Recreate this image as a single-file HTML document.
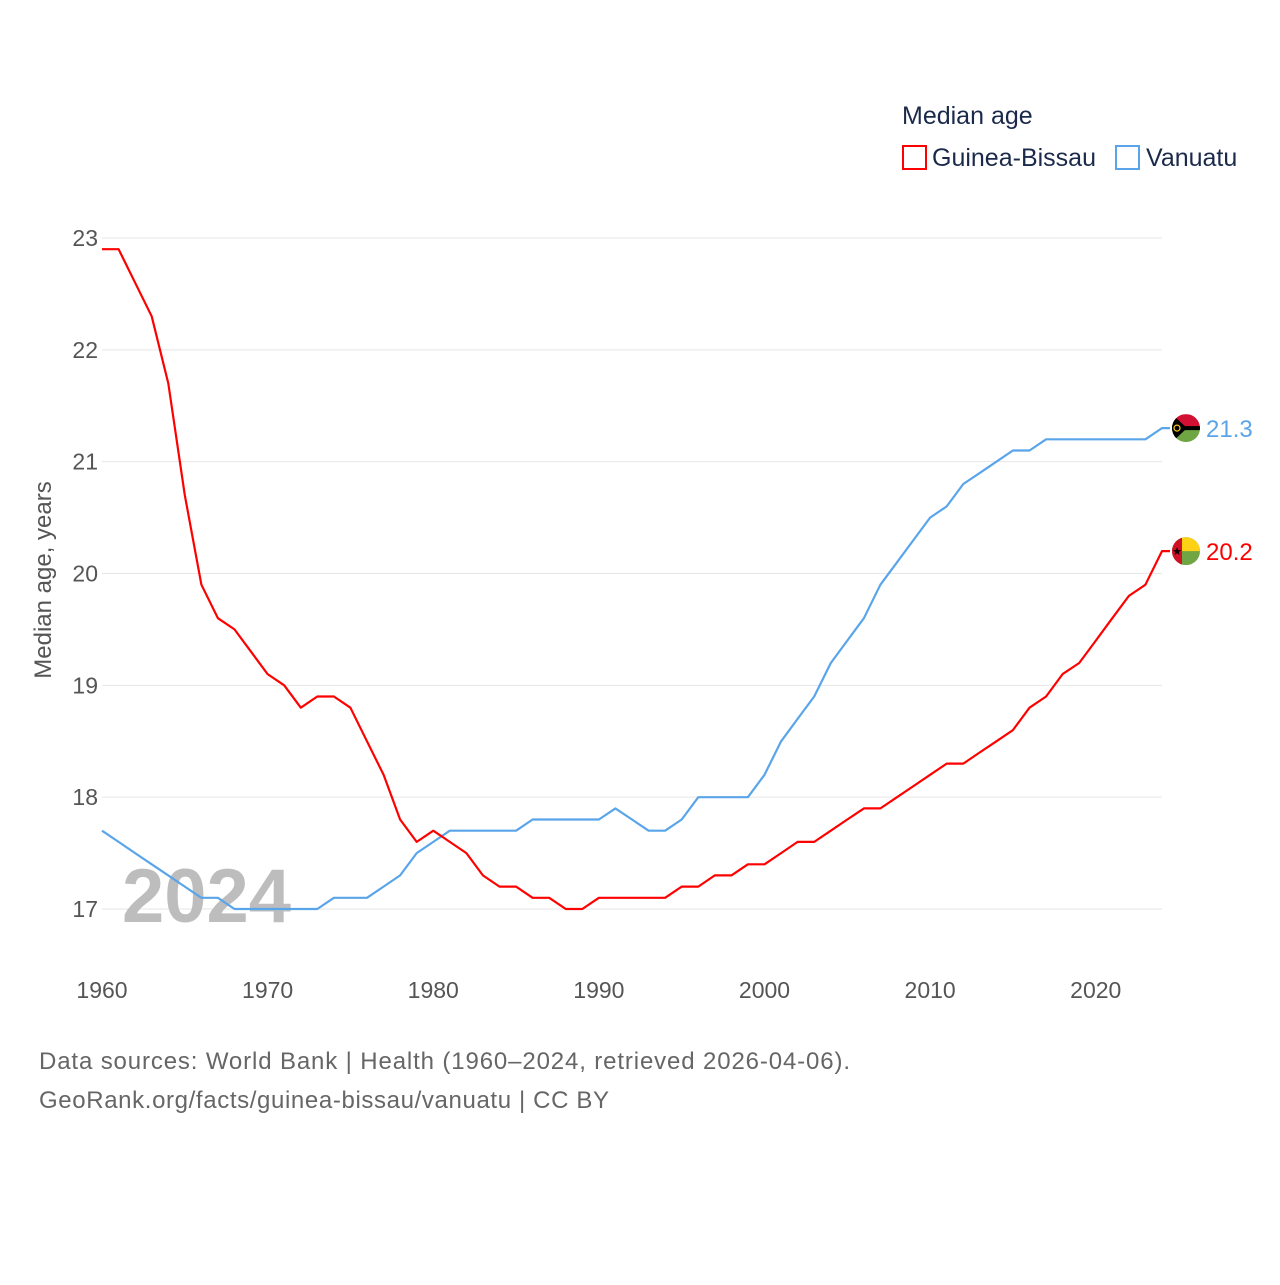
<!DOCTYPE html>
<html><head><meta charset="utf-8"><style>
body{margin:0;background:#fff;}
svg text{font-family:"Liberation Sans",sans-serif;}
</style></head><body>
<svg id="chart" width="1280" height="1280" viewBox="0 0 1280 1280" xmlns="http://www.w3.org/2000/svg">
<rect width="1280" height="1280" fill="#fff"/>
<g id="grid"></g>
<g id="yticks"></g>
<g id="xticks"></g>
<text x="122" y="922" font-size="76" font-weight="bold" fill="#bdbdbd">2024</text>
<text transform="translate(51,580) rotate(-90)" text-anchor="middle" font-size="24" fill="#555">Median age, years</text>
<g id="series"></g>
<g>
<text x="902" y="124" font-size="25" fill="#1b2a4a">Median age</text>
<g>
<rect x="903" y="146" width="23" height="23" fill="none" stroke="#ff0000" stroke-width="2"/>
<text x="932" y="166" font-size="25" fill="#1b2a4a">Guinea-Bissau</text></g>
<g>
<rect x="1116" y="146" width="23" height="23" fill="none" stroke="#5aa5ea" stroke-width="2"/>
<text x="1146" y="166" font-size="25" fill="#1b2a4a">Vanuatu</text></g>
</g>
<text x="39" y="1069" font-size="24" fill="#666" textLength="811" lengthAdjust="spacing">Data sources: World Bank | Health (1960–2024, retrieved 2026-04-06).</text>
<text x="39" y="1108" font-size="24" fill="#666" textLength="570" lengthAdjust="spacing">GeoRank.org/facts/guinea-bissau/vanuatu | CC BY</text>
</svg>
<script>
const years=[];for(let y=1960;y<=2024;y++)years.push(y);
const guineaBissau=[22.9,22.9,22.6,22.3,21.7,20.7,19.9,19.6,19.5,19.3,19.1,19.0,18.8,18.9,18.9,18.8,18.5,18.2,17.8,17.6,17.7,17.6,17.5,17.3,17.2,17.2,17.1,17.1,17.0,17.0,17.1,17.1,17.1,17.1,17.1,17.2,17.2,17.3,17.3,17.4,17.4,17.5,17.6,17.6,17.7,17.8,17.9,17.9,18.0,18.1,18.2,18.3,18.3,18.4,18.5,18.6,18.8,18.9,19.1,19.2,19.4,19.6,19.8,19.9,20.2];
const vanuatu=[17.7,17.6,17.5,17.4,17.3,17.2,17.1,17.1,17.0,17.0,17.0,17.0,17.0,17.0,17.1,17.1,17.1,17.2,17.3,17.5,17.6,17.7,17.7,17.7,17.7,17.7,17.8,17.8,17.8,17.8,17.8,17.9,17.8,17.7,17.7,17.8,18.0,18.0,18.0,18.0,18.2,18.5,18.7,18.9,19.2,19.4,19.6,19.9,20.1,20.3,20.5,20.6,20.8,20.9,21.0,21.1,21.1,21.2,21.2,21.2,21.2,21.2,21.2,21.2,21.3];
const yTicks=[17,18,19,20,21,22,23];
const xTicks=[1960,1970,1980,1990,2000,2010,2020];
const NS='http://www.w3.org/2000/svg';
const x=v=>102+(v-1960)*(1162-102)/64;
const y=v=>909-(v-17)*(909-238)/6;
function mk(t,a,p){const e=document.createElementNS(NS,t);for(const k in a)e.setAttribute(k,a[k]);p.appendChild(e);return e;}
const grid=document.getElementById('grid'),yt=document.getElementById('yticks'),xt=document.getElementById('xticks'),ser=document.getElementById('series');
yTicks.forEach(v=>{
 const l=mk('line',{x1:102,x2:1162,y1:y(v),y2:y(v),stroke:'#e6e6e6','stroke-width':1},grid);
 
 
 const t=mk('text',{x:98,y:y(v)+8,'text-anchor':'end','font-size':23,fill:'#555'},yt);
 
 
 t.textContent=v;
});
xTicks.forEach(v=>{
 const t=mk('text',{x:x(v),y:998,'text-anchor':'middle','font-size':23,fill:'#555'},xt);
 
 
 t.textContent=v;
});
function line(vals,color,name){
 const d=vals.map((v,i)=>(i?'L':'M')+x(years[i]).toFixed(1)+','+y(v).toFixed(1)).join('')+'L'+(x(2024)+8)+','+y(vals[vals.length-1]).toFixed(1);
 const p=mk('path',{d:d,fill:'none',stroke:color,'stroke-width':2.2,'stroke-linejoin':'round'},ser);
 
 
}
line(vanuatu,'#5aa5ea','vanuatu-line');
line(guineaBissau,'#ff0000','guinea-bissau-line');
function endLabel(v,color,name,flag){
 const cy=y(v),cx=1186;
 const g=mk('g',{},ser);
 
 
 const cid='c'+name;
 const cp=mk('clipPath',{id:cid},g);mk('circle',{cx:cx,cy:cy,r:14},cp);
 const f=mk('g',{'clip-path':'url(#'+cid+')'},g);
 if(flag==='vu'){
  mk('rect',{x:cx-14,y:cy-14,width:28,height:14,fill:'#d21034'},f);
  mk('rect',{x:cx-14,y:cy,width:28,height:14,fill:'#6fa542'},f);
  mk('rect',{x:cx-14,y:cy-2,width:28,height:4,fill:'#000'},f);
  mk('polygon',{points:(cx-14)+','+(cy-14)+' '+(cx+1)+','+cy+' '+(cx-14)+','+(cy+14),fill:'#000'},f);
  mk('circle',{cx:cx-9,cy:cy,r:3,fill:'none',stroke:'#fdce12','stroke-width':1.2},f);
 }else{
  mk('rect',{x:cx-14,y:cy-14,width:28,height:28,fill:'#6fa542'},f);
  mk('rect',{x:cx-4,y:cy-14,width:18,height:14,fill:'#fcd116'},f);
  mk('rect',{x:cx-14,y:cy-14,width:10,height:28,fill:'#ce1126'},f);
  const s=mk('text',{x:cx-9,y:cy+4,'text-anchor':'middle','font-size':11,fill:'#000'},f);s.textContent='★';
 }
 const t=mk('text',{x:1206,y:cy+9,'font-size':24,fill:color},ser);
 
 
 t.textContent=v.toFixed(1);
}
endLabel(vanuatu[vanuatu.length-1],'#5aa5ea','vanuatu','vu');
endLabel(guineaBissau[guineaBissau.length-1],'#ff0000','guinea-bissau','gw');
</script>
</body></html>
